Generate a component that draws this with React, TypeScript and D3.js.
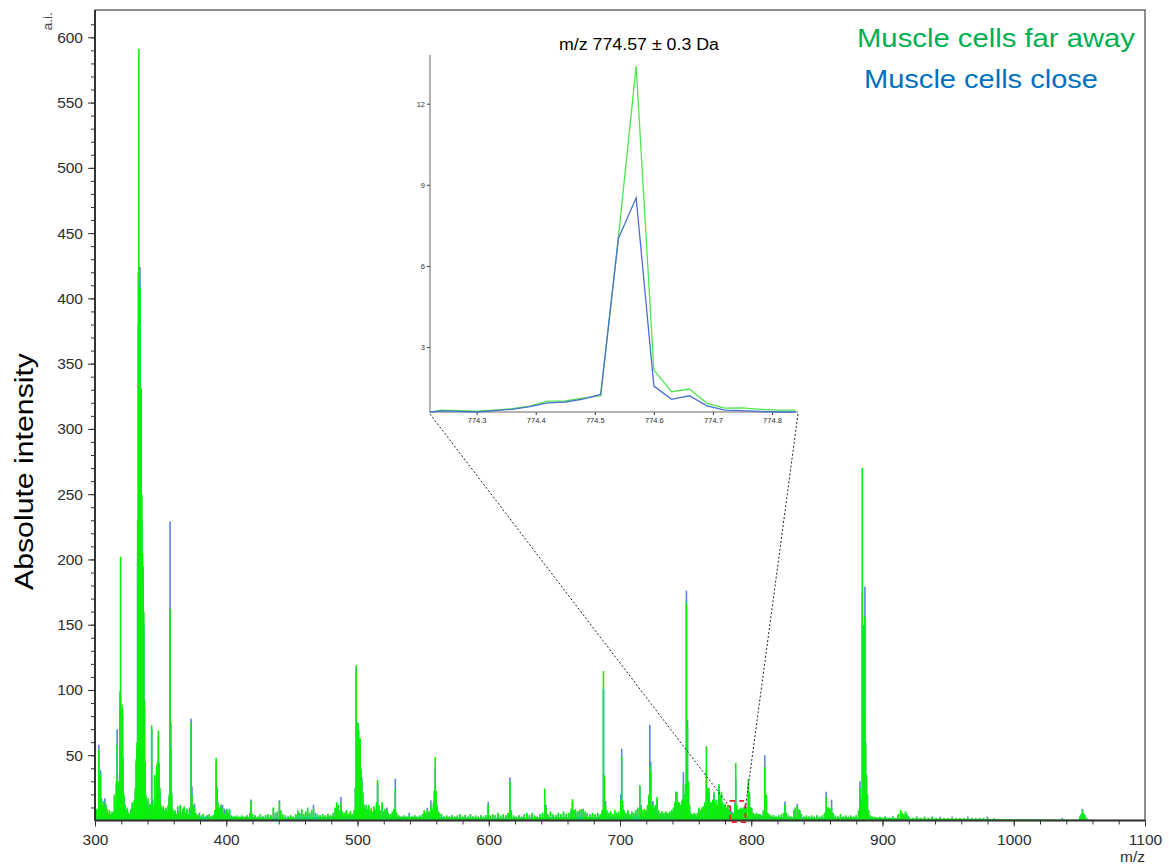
import React, { useRef, useEffect } from 'react';
import * as d3 from 'd3';

const W = 1169;
const H = 868;
const FONT = 'Arial, "Liberation Sans", Helvetica, sans-serif';

const seriesNames = ['Muscle cells far away', 'Muscle cells close'];
const seriesColors = ['#00b050', '#0070c0'];
const insetTitle = 'm/z 774.57 ± 0.3 Da';

// spectrum sticks: [m/z, far away, close]
const peaks300to400 = [
  [300.5, 6, 5], [301.4, 9, 8], [302.9, 54, 58], [304.2, 36, 38.5], [305.0, 14, 17], [305.8, 12, 10],
  [306.6, 15, 13], [307.5, 10, 17], [308.3, 13, 11], [309.2, 9, 8], [310.2, 6, 5], [311.0, 8, 7],
  [312.0, 5, 5], [313.0, 7, 6], [314.0, 6, 5], [314.8, 20, 18], [315.6, 9, 8], [316.3, 30, 28],
  [316.9, 58, 70], [317.6, 30, 28], [318.2, 12, 11], [318.7, 30, 35], [319.1, 85, 99], [319.5, 202, 95],
  [320.0, 88, 86], [320.5, 89, 85], [321.0, 86, 80], [321.5, 47, 48], [322.1, 20, 18], [322.9, 12, 12],
  [323.8, 8, 7], [324.7, 10, 9], [325.6, 6, 5], [326.5, 5, 4], [327.4, 9, 8], [328.3, 14, 12],
  [329.1, 10, 9], [329.9, 16, 14], [330.7, 25, 22], [331.4, 47, 45], [332.0, 60, 55], [332.5, 230, 200],
  [333.0, 420, 380], [333.4, 591, 410], [333.8, 410, 400], [334.3, 408, 424], [334.8, 330, 320],
  [335.2, 331, 300], [335.7, 250, 230], [336.2, 205, 180], [336.7, 195, 170], [337.2, 160, 150],
  [337.7, 92, 85], [338.2, 45, 40], [338.8, 20, 18], [339.5, 12, 10], [340.3, 17, 15], [341.1, 9, 8],
  [342.0, 13, 12], [343.2, 73, 70], [344.0, 12, 16], [344.8, 9, 8], [345.5, 35, 33], [346.3, 14, 12],
  [347.0, 42, 40], [347.6, 45, 43], [348.3, 69, 65], [348.9, 44, 42], [349.5, 25, 22], [350.2, 12, 10],
  [351.0, 9, 8], [352.0, 11, 10], [353.0, 8, 7], [354.0, 10, 9], [355.0, 7, 6], [355.8, 12, 11],
  [356.5, 20, 18], [357.2, 162, 229], [357.8, 55, 75], [358.4, 20, 22], [359.2, 9, 8], [360.0, 6, 5],
  [361.0, 8, 7], [362.0, 5, 4], [363.0, 11, 10], [364.0, 7, 6], [365.0, 12, 11], [366.0, 6, 5],
  [367.0, 9, 8], [368.0, 11, 10], [369.0, 6, 5], [370.0, 9, 8], [371.0, 5, 4], [372.0, 10, 9],
  [373.2, 75, 78], [373.9, 20, 26], [374.7, 12, 11], [375.8, 10, 13], [376.8, 6, 5], [378.0, 4, 4],
  [379.5, 5, 6], [381.0, 4, 3], [382.5, 5, 5], [384.0, 3, 3], [385.5, 4, 4], [387.0, 5, 4],
  [388.5, 3, 3], [390.0, 4, 4], [391.3, 8, 7], [392.3, 48, 45], [393.0, 26, 24], [393.8, 14, 12],
  [395.0, 10, 9], [396.0, 12, 12], [397.2, 9, 12], [398.5, 5, 9], [399.5, 8, 7],
];

const peaks400to500 = [
  [400.5, 9, 8], [401.5, 6, 5], [402.5, 9, 8], [404.0, 4, 3], [406.0, 3, 3], [408.0, 4, 3],
  [410.0, 3, 2], [412.0, 4, 3], [414.0, 3, 3], [416.0, 4, 4], [418.0, 6, 5], [418.9, 15, 16],
  [420.0, 5, 4], [422.0, 4, 4], [424.0, 3, 3], [426.0, 5, 4], [428.0, 3, 3], [430.0, 4, 4],
  [432.0, 5, 4], [434.0, 4, 4], [435.9, 10, 9], [437.5, 6, 5], [439.0, 7, 6], [440.5, 14, 15.5],
  [441.5, 8, 7], [443.0, 5, 4], [445.0, 4, 4], [447.0, 3, 3], [449.0, 4, 4], [451.0, 3, 3],
  [453.0, 5, 4], [454.5, 8, 6], [456.0, 6, 5], [457.5, 9, 8], [459.0, 5, 4], [460.5, 7, 6],
  [462.0, 10, 9], [463.5, 6, 5], [465.0, 8, 7], [466.5, 9, 12], [468.0, 6, 5], [469.5, 5, 4],
  [471.5, 4, 4], [473.5, 5, 4], [475.5, 4, 3], [477.5, 5, 5], [479.5, 4, 4], [481.5, 6, 5],
  [483.0, 10, 9], [484.2, 14, 12], [485.3, 12, 10], [486.2, 8, 7], [487.4, 14, 18], [488.5, 7, 6],
  [490.0, 6, 5], [491.5, 8, 7], [493.0, 5, 4], [494.5, 7, 6], [496.0, 5, 4], [497.5, 8, 7],
  [498.4, 25, 25], [499.0, 119, 116], [499.6, 72, 70],
];

const peaks500to600 = [
  [500.2, 75, 75], [500.8, 70, 68], [501.4, 63, 60], [502.0, 63, 58], [502.6, 40, 38], [503.3, 30, 33],
  [504.0, 22, 20], [504.8, 12, 12], [505.6, 9, 8], [506.5, 12, 10], [507.5, 9, 8], [508.5, 12, 11],
  [509.5, 8, 7], [510.5, 10, 9], [511.5, 7, 6], [512.5, 11, 10], [513.5, 8, 7], [514.5, 14, 12],
  [515.3, 31, 28], [516.2, 12, 11], [517.2, 8, 7], [518.8, 14, 13], [519.8, 7, 6], [521.0, 9, 8],
  [522.4, 8, 10], [523.5, 6, 5], [525.0, 5, 4], [526.5, 7, 6], [527.8, 9, 8], [528.8, 24, 32],
  [529.8, 6, 5], [531.5, 4, 3], [533.5, 3, 3], [535.5, 4, 3], [537.5, 3, 3], [539.4, 4, 6],
  [541.5, 3, 3], [543.5, 4, 4], [545.5, 3, 3], [547.5, 4, 3], [549.5, 5, 4], [550.8, 8, 6],
  [552.0, 6, 5], [553.2, 8, 9.7], [554.5, 7, 6], [555.9, 11.7, 15.5], [557.0, 9, 8], [557.9, 14, 13],
  [558.6, 23, 22], [559.2, 48.7, 40], [559.9, 23, 20], [560.6, 12, 10], [561.5, 7, 6], [562.5, 6, 5],
  [564.0, 5, 4], [566.0, 3, 3], [568.0, 4, 3], [570.0, 3, 3], [572.0, 4, 4], [574.0, 3, 3],
  [576.0, 4, 3], [578.0, 5, 4], [580.0, 3, 3], [582.0, 4, 4], [584.0, 3, 3], [586.0, 5, 4],
  [588.0, 3, 3], [590.0, 4, 3], [592.0, 3, 3], [594.0, 4, 4], [596.0, 3, 3], [598.0, 4, 4],
  [599.6, 12, 14.3],
];

const peaks600to700 = [
  [601.0, 4, 3], [603.0, 5, 4], [605.0, 4, 4], [607.0, 6, 5], [609.0, 4, 3], [611.0, 5, 4],
  [613.0, 4, 4], [614.8, 6, 5], [616.1, 29.6, 32.9], [617.2, 8, 7], [619.0, 4, 3], [621.0, 3, 3],
  [623.0, 4, 4], [625.0, 3, 3], [627.0, 5, 4], [629.0, 6, 5], [631.0, 4, 4], [633.0, 6, 5],
  [635.0, 4, 3], [637.0, 3, 3], [639.0, 5, 4], [641.0, 6, 5], [642.7, 24.5, 12], [643.6, 10, 12],
  [645.0, 5, 4], [647.0, 7, 6], [649.0, 5, 4], [651.0, 4, 4], [653.0, 6, 5], [655.0, 5, 4],
  [657.0, 7, 6], [659.0, 5, 4], [661.0, 6, 5], [662.7, 9, 8], [663.8, 16.3, 14], [664.8, 8, 7],
  [666.0, 9, 8], [667.5, 7, 6], [669.0, 8, 7], [670.5, 9, 8], [672.0, 8, 9], [673.5, 7, 6],
  [675.0, 6, 5], [677.0, 5, 4], [679.0, 6, 5], [681.0, 5, 4], [683.0, 6, 5], [685.0, 5, 4],
  [686.4, 8, 7], [687.4, 114.4, 100], [688.1, 34.6, 32], [689.0, 12, 15], [690.0, 8, 7], [691.5, 6, 5],
  [693.0, 7, 6], [694.5, 5, 4], [696.0, 8, 7], [697.5, 6, 5], [699.0, 7, 6],
];

const peaks700to800 = [
  [700.6, 16, 20], [701.3, 48.7, 55], [702.0, 15, 12], [703.0, 8, 7], [704.5, 6, 5], [706.0, 8, 7],
  [707.5, 5, 4], [709.0, 7, 6], [710.5, 6, 5], [712.0, 8, 7], [713.5, 10, 9], [715.1, 27, 26],
  [716.0, 10, 12], [717.0, 8, 7], [718.5, 9, 8], [719.8, 8, 7], [721.0, 12, 11], [722.0, 20, 18],
  [722.7, 42, 73.4], [723.4, 38, 45], [724.2, 12, 11], [725.0, 12, 15], [726.0, 10, 9], [727.0, 12, 11],
  [728.2, 18, 16], [729.2, 8, 7], [730.5, 6, 5], [732.0, 7, 6], [733.5, 6, 5], [735.0, 7, 6],
  [736.5, 6, 5], [738.0, 7, 6], [739.5, 8, 7], [740.8, 10, 9], [741.8, 14, 13], [742.5, 22, 22],
  [743.4, 22, 15], [744.3, 14, 12], [745.2, 14, 13], [746.2, 12, 11], [747.3, 16, 15], [748.3, 28, 37],
  [749.2, 20, 18], [750.0, 28, 25], [750.6, 167, 176], [751.4, 72, 77], [752.2, 30, 27], [753.0, 12, 11],
  [754.0, 6, 5], [755.2, 5, 4], [756.5, 6, 5], [757.8, 5, 4], [759.0, 6, 5], [760.2, 10, 9],
  [761.3, 8, 7], [762.4, 10, 9], [763.5, 11, 10], [764.6, 14, 12], [765.8, 57, 38], [766.8, 25, 24],
  [767.8, 25, 22], [768.8, 14, 12], [769.8, 14, 13], [770.7, 16, 14], [771.6, 22, 20], [772.5, 13, 12],
  [773.4, 16, 14], [774.3, 12, 11], [775.4, 28, 26], [776.4, 19, 17], [777.3, 22, 20], [778.2, 14, 12],
  [779.2, 12, 11], [780.2, 13, 12], [781.2, 10, 9], [782.2, 12, 11], [783.2, 8, 7], [784.3, 6, 8],
  [785.4, 5, 7], [786.6, 6, 5], [787.5, 12, 14], [788.2, 44, 32], [789.0, 12, 11], [790.0, 8, 7],
  [791.0, 9, 8], [792.0, 10, 9], [793.0, 9, 8], [794.0, 10, 9], [795.0, 9, 11], [796.2, 10, 9],
  [797.8, 31.6, 28], [798.6, 22, 20], [799.4, 10, 9],
];

const peaks800to900 = [
  [800.3, 10, 9], [801.5, 6, 5], [802.8, 5, 4], [804.0, 6, 5], [805.3, 5, 4], [806.6, 5, 5],
  [808.0, 4, 3], [809.3, 8, 7], [810.3, 41, 50], [811.5, 20, 18], [812.5, 6, 5], [813.5, 5, 4],
  [815.0, 4, 3], [817.0, 4, 4], [819.0, 3, 3], [821.0, 4, 3], [823.0, 5, 4], [824.7, 6, 5],
  [825.7, 12, 14.5], [826.8, 6, 5], [828.5, 4, 3], [830.5, 3, 3], [832.5, 8, 7], [833.5, 10, 9],
  [835.0, 11, 12.7], [836.0, 9, 8], [837.0, 8, 7], [838.2, 5, 4], [840.0, 3, 3], [842.0, 4, 3],
  [844.0, 3, 3], [846.0, 4, 3], [848.0, 3, 3], [850.0, 4, 4], [852.0, 3, 3], [854.0, 4, 3],
  [855.8, 6, 5], [857.1, 18, 22], [858.2, 10, 9], [859.2, 10, 9], [860.2, 9, 8], [861.2, 10, 16],
  [862.4, 6, 5], [864.0, 4, 3], [866.0, 3, 3], [868.0, 5, 4], [870.0, 3, 3], [872.0, 4, 3],
  [874.0, 3, 3], [876.0, 4, 3], [878.0, 3, 3], [880.0, 4, 4], [881.8, 8, 7], [882.8, 25, 30],
  [883.6, 12, 17], [884.6, 270, 175], [885.3, 150, 140], [885.9, 83, 96], [886.6, 156, 179],
  [887.1, 58, 61], [887.8, 35, 30], [888.5, 20, 18], [889.4, 8, 7], [890.5, 4, 3], [892.0, 3, 3],
  [894.0, 3, 2], [896.0, 2, 2], [898.0, 3, 2],
];

const peaks900to1100 = [
  [900.0, 2, 2], [902.0, 3, 3], [904.0, 2, 2], [906.0, 2, 2], [908.0, 3, 3], [910.0, 2, 2],
  [912.0, 5, 4], [913.8, 8, 7], [915.0, 6, 5], [916.2, 5, 4], [917.5, 7, 6], [918.6, 5, 4],
  [920.0, 3, 3], [923.0, 2, 2], [926.0, 3, 3], [929.0, 2, 2], [932.0, 3, 2], [935.0, 2, 2],
  [938.0, 3, 3], [941.0, 2, 2], [944.0, 2, 3], [947.0, 2, 2], [950.0, 2, 2], [953.0, 2, 3],
  [956.0, 2, 2], [959.0, 2, 2], [962.0, 2, 2], [965.0, 2, 3], [968.0, 2, 2], [971.0, 1.5, 2],
  [974.0, 2, 2], [977.0, 1.5, 2], [980.0, 2, 3], [985.0, 1.5, 1.5], [1037.0, 1, 2], [1050.5, 3, 3],
  [1051.5, 5, 5], [1052.3, 8, 9], [1053.2, 6, 5], [1054.2, 4, 4], [1055.5, 2, 2],
];

// noise floor under the sticks: [m/z, level]
const noiseFloor = [
  [300, 3], [320, 5], [340, 4], [360, 3], [380, 2.5], [400, 3], [440, 2], [480, 3], [500, 4],
  [520, 3], [560, 2.5], [600, 2], [650, 2.5], [700, 3], [750, 3.5], [800, 3], [850, 2], [890, 2.5],
  [920, 1.5], [1000, 1], [1060, 0.5],
];

// inset: m/z 774.57 ± 0.3 Da
const insetMz = [
  774.22, 774.24, 774.27, 774.30, 774.33, 774.36, 774.39, 774.42, 774.45, 774.48, 774.51,
  774.54, 774.57, 774.60, 774.63, 774.66, 774.69, 774.72, 774.75, 774.78, 774.81, 774.84,
];
const insetFar = [
  0.59, 0.67, 0.65, 0.63, 0.67, 0.72, 0.82, 1.0, 1.01, 1.11, 1.2,
  7.07, 13.39, 2.15, 1.35, 1.45, 0.92, 0.74, 0.75, 0.7, 0.67, 0.67,
];
const insetClose = [
  0.59, 0.64, 0.62, 0.6, 0.65, 0.7, 0.8, 0.94, 0.97, 1.08, 1.25,
  7.02, 8.52, 1.56, 1.07, 1.2, 0.83, 0.67, 0.65, 0.62, 0.6, 0.6,
];
const insetXTicks = [774.3, 774.4, 774.5, 774.6, 774.7, 774.8];
const insetYTicks = [3, 6, 9, 12];

// zoom box on the main spectrum: m/z and intensity bounds
const zoomBoxMz = [784, 795.6];
const zoomBoxInt = [-1.2, 15];

export default function App() {
  const ref = useRef<SVGSVGElement>(null);

  useEffect(() => {
    const svg = d3.select(ref.current);
    svg.selectAll('*').remove();

    const x = d3.scaleLinear().domain([300, 1100]).range([95, 1145]);
    const y = d3.scaleLinear().domain([0, 600]).range([820.5, 37.3]);
    const plotTop = 10;
    const peaks = [
      ...peaks300to400, ...peaks400to500, ...peaks500to600, ...peaks600to700,
      ...peaks700to800, ...peaks800to900, ...peaks900to1100,
    ];

    // ticks
    const styleAxis = (g: any, size: number) => {
      g.select('.domain').remove();
      g.selectAll('line').attr('stroke', '#333').attr('stroke-width', 1);
      g.selectAll('text')
        .attr('font-family', FONT)
        .attr('font-size', size)
        .attr('fill', '#2e2e2e');
    };

    svg.append('g')
      .attr('transform', `translate(${x(300)},0)`)
      .call(d3.axisLeft(y).tickValues(d3.range(10, 611, 10)).tickSize(4).tickFormat(() => ''))
      .call((g) => styleAxis(g, 15));
    svg.append('g')
      .attr('transform', `translate(${x(300)},0)`)
      .call(d3.axisLeft(y).tickValues(d3.range(50, 601, 50)).tickSize(7).tickPadding(5).tickFormat(d3.format('d')))
      .call((g) => styleAxis(g, 15.5));
    svg.append('g')
      .attr('transform', `translate(0,${y(0)})`)
      .call(d3.axisBottom(x).tickValues(d3.range(300, 1101, 20)).tickSize(4).tickFormat(() => ''))
      .call((g) => styleAxis(g, 15));
    svg.append('g')
      .attr('transform', `translate(0,${y(0)})`)
      .call(d3.axisBottom(x).tickValues(d3.range(300, 1101, 100)).tickSize(6).tickPadding(7).tickFormat(d3.format('d')))
      .call((g) => styleAxis(g, 15.5));

    // frame
    svg.append('rect')
      .attr('x', x(300)).attr('y', plotTop)
      .attr('width', x(1100) - x(300)).attr('height', y(0) - plotTop)
      .attr('fill', 'none').attr('stroke', '#444').attr('stroke-width', 1.2);

    // spectra
    const area = d3.area<number[]>()
      .x((d) => x(d[0]))
      .y0(y(0))
      .y1((d) => y(d[1]));
    svg.append('path').datum(noiseFloor).attr('d', area).attr('fill', '#0bf00b');

    const sticks = (idx: number, color: string) =>
      svg.append('g')
        .selectAll('line')
        .data(peaks)
        .join('line')
        .attr('x1', (d) => x(d[0]))
        .attr('x2', (d) => x(d[0]))
        .attr('y1', y(0))
        .attr('y2', (d) => y(d[idx]))
        .attr('stroke', color)
        .attr('stroke-width', 1.6);
    sticks(2, '#5b85dc');
    sticks(1, '#0bf00b');

    // axis lines
    svg.append('line')
      .attr('x1', x(300)).attr('x2', x(300)).attr('y1', plotTop).attr('y2', y(0))
      .attr('stroke', '#333').attr('stroke-width', 2);
    svg.append('line')
      .attr('x1', x(300)).attr('x2', x(1100)).attr('y1', y(0)).attr('y2', y(0))
      .attr('stroke', '#333').attr('stroke-width', 2);

    svg.append('text')
      .attr('x', x(1100)).attr('y', 862)
      .attr('text-anchor', 'end')
      .attr('font-family', FONT).attr('font-size', 15.5).attr('fill', '#2e2e2e')
      .text('m/z');
    svg.append('text')
      .attr('transform', 'translate(51.5,21.2) rotate(-90)')
      .attr('text-anchor', 'middle')
      .attr('font-family', FONT).attr('font-size', 13.5).attr('fill', '#444')
      .text('a.i.');
    svg.append('text')
      .attr('transform', 'translate(33.3,471.5) rotate(-90)')
      .attr('text-anchor', 'middle')
      .attr('font-family', FONT).attr('font-size', 26).attr('fill', '#000')
      .attr('textLength', 237).attr('lengthAdjust', 'spacingAndGlyphs')
      .text('Absolute intensity');

    // legend
    [[857, 46.7, 278], [864, 88.3, 234]].forEach(([lx, ly, len], i) => {
      svg.append('text')
        .attr('x', lx).attr('y', ly)
        .attr('font-family', FONT).attr('font-size', 26)
        .attr('fill', seriesColors[i])
        .attr('textLength', len).attr('lengthAdjust', 'spacingAndGlyphs')
        .text(seriesNames[i]);
    });

    // inset
    const ix = d3.scaleLinear().domain([774.221, 774.844]).range([430, 798]);
    const iy = d3.scaleLinear().domain([0.6, 13.8]).range([412, 55]);
    const inset = svg.append('g');

    inset.append('g')
      .attr('transform', `translate(0,${iy(0.6)})`)
      .call(d3.axisBottom(ix).tickValues(insetXTicks).tickSize(3).tickPadding(3).tickFormat(d3.format('.1f')))
      .call((g) => styleAxis(g, 7.5));
    inset.append('g')
      .attr('transform', `translate(${ix(774.221)},0)`)
      .call(d3.axisLeft(iy).tickValues(insetYTicks).tickSize(3).tickPadding(2))
      .call((g) => styleAxis(g, 7.5));
    inset.append('path')
      .attr('d', `M${ix(774.221)},${iy(13.8)}V${iy(0.6)}H${ix(774.844)}`)
      .attr('fill', 'none').attr('stroke', '#666').attr('stroke-width', 1);

    const iLine = (vals: number[]) =>
      d3.line<number>()
        .x((_, i) => ix(insetMz[i]))
        .y((d) => iy(d))(vals);
    inset.append('path').attr('d', iLine(insetFar))
      .attr('fill', 'none').attr('stroke', '#4de84d').attr('stroke-width', 1.3);
    inset.append('path').attr('d', iLine(insetClose))
      .attr('fill', 'none').attr('stroke', '#4a6fd0').attr('stroke-width', 1.3);

    inset.append('text')
      .attr('x', (ix(774.221) + ix(774.844)) / 2 + 25).attr('y', 50)
      .attr('text-anchor', 'middle')
      .attr('font-family', FONT).attr('font-size', 16).attr('fill', '#000')
      .attr('textLength', 160).attr('lengthAdjust', 'spacingAndGlyphs')
      .text(insetTitle);

    // zoom annotation
    const bx0 = x(zoomBoxMz[0]);
    const bx1 = x(zoomBoxMz[1]);
    svg.append('rect')
      .attr('x', bx0).attr('y', y(zoomBoxInt[1]))
      .attr('width', bx1 - bx0).attr('height', y(zoomBoxInt[0]) - y(zoomBoxInt[1]))
      .attr('fill', 'none').attr('stroke', '#e8202a').attr('stroke-width', 1.8)
      .attr('stroke-dasharray', '5,4');
    svg.append('line')
      .attr('x1', ix(774.221)).attr('y1', iy(0.6) + 2)
      .attr('x2', bx0).attr('y2', y(10))
      .attr('stroke', '#222').attr('stroke-width', 1).attr('stroke-dasharray', '2,2');
    svg.append('line')
      .attr('x1', ix(774.844)).attr('y1', iy(0.6) + 2)
      .attr('x2', bx1).attr('y2', y(10))
      .attr('stroke', '#222').attr('stroke-width', 1).attr('stroke-dasharray', '2,2');
  }, []);

  return (
    <svg
      ref={ref}
      width={W}
      height={H}
      style={{ position: 'absolute', left: 0, top: 0, background: '#fff' }}
    />
  );
}
